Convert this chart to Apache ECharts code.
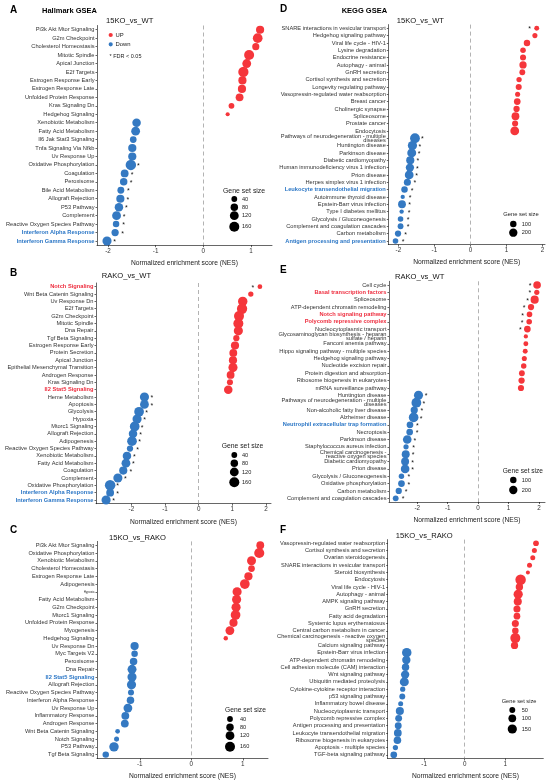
<!DOCTYPE html>
<html><head><meta charset="utf-8">
<script src="https://cdn.jsdelivr.net/npm/echarts@6/dist/echarts.min.js"></script>
<style>html,body{margin:0;padding:0;background:#fff}#c{width:550px;height:781px}</style>
</head><body><div id="c"></div>
<script>
// ---------------- DATA ----------------
const A_terms = ['Pi3k Akt Mtor Signaling','G2m Checkpoint','Cholesterol Homeostasis','Mitotic Spindle','Apical Junction','E2f Targets','Estrogen Response Early','Estrogen Response Late','Unfolded Protein Response','Kras Signaling Dn','Hedgehog Signaling','Xenobiotic Metabolism','Fatty Acid Metabolism','Il6 Jak Stat3 Signaling','Tnfa Signaling Via Nfkb','Uv Response Up','Oxidative Phosphorylation','Coagulation','Peroxisome','Bile Acid Metabolism','Allograft Rejection','P53 Pathway','Complement','Reactive Oxygen Species Pathway','Interferon Alpha Response','Interferon Gamma Response'];
const A_nes = [1.19,1.14,1.10,0.96,0.91,0.84,0.82,0.81,0.76,0.59,0.51,-1.40,-1.42,-1.47,-1.49,-1.49,-1.52,-1.65,-1.67,-1.73,-1.74,-1.77,-1.82,-1.83,-1.85,-2.02];
const A_size = [100,150,70,160,120,170,100,100,90,40,10,110,120,60,100,100,175,90,80,65,100,110,120,55,75,130];
const A_sig = [0,0,0,0,0,0,0,0,0,0,0,0,0,0,0,0,1,1,1,1,1,1,1,1,1,1];
const A_highlight = ['Interferon Alpha Response','Interferon Gamma Response'];

const B_terms = ['Notch Signaling','Wnt Beta Catenin Signaling','Uv Response Dn','E2f Targets','G2m Checkpoint','Mitotic Spindle','Dna Repair','Tgf Beta Signaling','Estrogen Response Early','Protein Secretion','Apical Junction','Epithelial Mesenchymal Transition','Androgen Response','Kras Signaling Dn','Il2 Stat5 Signaling','Heme Metabolism','Apoptosis','Glycolysis','Hypoxia','Mtorc1 Signaling','Allograft Rejection','Adipogenesis','Reactive Oxygen Species Pathway','Xenobiotic Metabolism','Fatty Acid Metabolism','Coagulation','Complement','Oxidative Phosphorylation','Interferon Alpha Response','Interferon Gamma Response'];
const B_nes = [1.82,1.55,1.31,1.29,1.20,1.18,1.18,1.12,1.08,1.03,1.02,1.02,0.95,0.93,0.88,-1.61,-1.61,-1.77,-1.83,-1.90,-1.95,-1.98,-2.04,-2.13,-2.16,-2.24,-2.40,-2.63,-2.63,-2.75];
const B_size = [20,30,140,170,160,160,130,50,100,90,100,130,90,45,110,130,120,150,130,150,110,150,50,110,120,100,130,180,90,130];
const B_sig = [1,0,0,0,0,0,0,0,0,0,0,0,0,0,0,1,1,1,1,1,1,1,1,1,1,1,1,1,1,1];
const B_highlight = ['Notch Signaling','Il2 Stat5 Signaling','Interferon Alpha Response','Interferon Gamma Response'];

const C_terms = ['Pi3k Akt Mtor Signaling','Oxidative Phosphorylation','Xenobiotic Metabolism','Cholesterol Homeostasis','Estrogen Response Late','Adipogenesis','Hypoxia','Fatty Acid Metabolism','G2m Checkpoint','Mtorc1 Signaling','Unfolded Protein Response','Myogenesis','Hedgehog Signaling','Uv Response Dn','Myc Targets V2','Peroxisome','Dna Repair','Il2 Stat5 Signaling','Allograft Rejection','Reactive Oxygen Species Pathway','Interferon Alpha Response','Uv Response Up','Inflammatory Response','Androgen Response','Wnt Beta Catenin Signaling','Notch Signaling','P53 Pathway','Tgf Beta Signaling'];
const C_nes = [1.34,1.32,1.17,1.17,1.11,1.04,0.89,0.88,0.87,0.86,0.82,0.75,0.67,-1.10,-1.10,-1.12,-1.15,-1.15,-1.16,-1.17,-1.18,-1.23,-1.28,-1.29,-1.43,-1.45,-1.50,-1.66];
const C_size = [90,165,125,60,100,150,130,130,130,150,100,120,15,100,55,80,125,130,130,45,80,120,90,90,20,25,140,55];
const C_sig = [0,0,0,0,0,0,0,0,0,0,0,0,0,0,0,0,0,0,0,0,0,0,0,0,0,0,0,0];
const C_highlight = ['Il2 Stat5 Signaling'];

const D_terms = ['SNARE interactions in vesicular transport','Hedgehog signaling pathway','Viral life cycle - HIV-1','Lysine degradation','Endocrine resistance','Autophagy - animal','GnRH secretion','Cortisol synthesis and secretion','Longevity regulating pathway','Vasopressin-regulated water reabsorption','Breast cancer','Cholinergic synapse','Spliceosome','Prostate cancer','Endocytosis','Pathways of neurodegeneration - multiple\ndiseases','Huntington disease','Parkinson disease','Diabetic cardiomyopathy','Human immunodeficiency virus 1 infection','Prion disease','Herpes simplex virus 1 infection','Leukocyte transendothelial migration','Autoimmune thyroid disease','Epstein-Barr virus infection','Type I diabetes mellitus','Glycolysis / Gluconeogenesis','Complement and coagulation cascades','Carbon metabolism','Antigen processing and presentation'];
const D_nes = [1.84,1.79,1.57,1.46,1.46,1.46,1.44,1.35,1.34,1.31,1.30,1.28,1.25,1.24,1.23,-1.54,-1.61,-1.63,-1.67,-1.68,-1.70,-1.75,-1.83,-1.88,-1.90,-1.91,-1.94,-1.94,-2.01,-2.08];
const D_size = [35,40,100,60,80,140,70,50,80,40,110,90,170,80,230,300,260,240,190,200,230,130,100,12,170,15,60,70,90,60];
const D_sig = [1,0,0,0,0,0,0,0,0,0,0,0,0,0,0,1,1,1,1,1,1,1,1,1,1,1,1,1,1,1];
const D_highlight = ['Leukocyte transendothelial migration','Antigen processing and presentation'];

const E_terms = ['Cell cycle','Basal transcription factors','Spliceosome','ATP-dependent chromatin remodeling','Notch signaling pathway','Polycomb repressive complex','Nucleocytoplasmic transport','Glycosaminoglycan biosynthesis - heparan\nsulfate / heparin','Fanconi anemia pathway','Hippo signaling pathway - multiple species','Hedgehog signaling pathway','Nucleotide excision repair','Protein digestion and absorption','Ribosome biogenesis in eukaryotes','mRNA surveillance pathway','Huntington disease','Pathways of neurodegeneration - multiple\ndiseases','Non-alcoholic fatty liver disease','Alzheimer disease','Neutrophil extracellular trap formation','Necroptosis','Parkinson disease','Staphylococcus aureus infection','Chemical carcinogenesis -\nreactive oxygen species','Diabetic cardiomyopathy','Prion disease','Glycolysis / Gluconeogenesis','Oxidative phosphorylation','Carbon metabolism','Complement and coagulation cascades'];
const E_nes = [1.94,1.93,1.86,1.74,1.69,1.68,1.62,1.57,1.57,1.55,1.52,1.50,1.44,1.43,1.41,-1.96,-2.03,-2.10,-2.12,-2.24,-2.25,-2.33,-2.37,-2.38,-2.40,-2.40,-2.52,-2.52,-2.61,-2.71];
const E_size = [160,45,190,90,60,60,110,12,35,35,40,55,70,90,85,250,300,140,290,110,110,220,45,180,180,220,55,110,90,70];
const E_sig = [1,1,1,1,1,1,1,0,0,0,0,0,0,0,0,1,1,1,1,1,1,1,1,1,1,1,1,1,1,1];
const E_highlight = ['Basal transcription factors','Notch signaling pathway','Polycomb repressive complex','Neutrophil extracellular trap formation'];

const F_terms = ['Vasopressin-regulated water reabsorption','Cortisol synthesis and secretion','Ovarian steroidogenesis','SNARE interactions in vesicular transport','Steroid biosynthesis','Endocytosis','Viral life cycle - HIV-1','Autophagy - animal','AMPK signaling pathway','GnRH secretion','Fatty acid degradation','Systemic lupus erythematosus','Central carbon metabolism in cancer','Chemical carcinogenesis - reactive oxygen\nspecies','Calcium signaling pathway','Epstein-Barr virus infection','ATP-dependent chromatin remodeling','Cell adhesion molecule (CAM) interaction','Wnt signaling pathway','Ubiquitin mediated proteolysis','Cytokine-cytokine receptor interaction','p53 signaling pathway','Inflammatory bowel disease','Nucleocytoplasmic transport','Polycomb repressive complex','Antigen processing and presentation','Leukocyte transendothelial migration','Ribosome biogenesis in eukaryotes','Apoptosis - multiple species','TGF-beta signaling pathway'];
const F_nes = [1.76,1.72,1.68,1.60,1.56,1.38,1.35,1.32,1.31,1.29,1.29,1.25,1.25,1.25,1.23,-1.43,-1.44,-1.46,-1.47,-1.49,-1.53,-1.54,-1.58,-1.60,-1.63,-1.64,-1.65,-1.66,-1.71,-1.75];
const F_size = [45,30,30,30,12,200,90,150,110,80,70,80,65,180,85,160,120,90,120,140,35,50,30,110,75,75,100,95,35,70];
const F_sig = [0,0,0,0,0,0,0,0,0,0,0,0,0,0,0,0,0,0,0,0,0,0,0,0,0,0,0,0,0,0];
const F_highlight = [];

const A_ticks = [-2,-1,0,1], B_ticks = [-2,-1,0,1,2], C_ticks = [-1,0,1];
const D_ticks = [-2,-1,0,1,2], E_ticks = [-2,-1,0,1,2], F_ticks = [-1,0,1];
const A_legendSizes = [40,80,120,160], B_legendSizes = [40,80,120,160], C_legendSizes = [40,80,120,160];
const D_legendSizes = [100,200], E_legendSizes = [100,200], F_legendSizes = [50,100,150];

// ---------------- STYLE / LAYOUT ----------------
const FONT = '"Liberation Sans", Arial, Helvetica, sans-serif';
const RED = '#F5363B', BLUE = '#3479C2', HL_RED = '#EE2E3F', HL_BLUE = '#2C77C6';
const TXT = '#333';

const panels = [
 {letter:'A', terms:A_terms, nes:A_nes, size:A_size, sig:A_sig, hl:A_highlight, ticks:A_ticks, lsz:A_legendSizes,
  grid:[97,25.5,175,219.7], xr:[-2.23,1.44], ss:[11.5,0.553], lp:{x:10,y:10}, sub:{t:'15KO_vs_WT',x:106,y:20.7},
  leg:{tx:223,ty:190.7,tf:6.9,cx:234.3,cys:[199,207.3,215.7,226.7],lx:242}},
 {letter:'B', terms:B_terms, nes:B_nes, size:B_size, sig:B_sig, hl:B_highlight, ticks:B_ticks, lsz:B_legendSizes,
  grid:[96,283.0,175,220.7], xr:[-3.05,2.15], ss:[11.5,0.553], lp:{x:10,y:273}, sub:{t:'RAKO_vs_WT',x:101.7,y:276},
  leg:{tx:221.7,ty:446,tf:6.8,cx:234.3,cys:[455,463.3,472,482.3],lx:242}},
 {letter:'C', terms:C_terms, nes:C_nes, size:C_size, sig:C_sig, hl:C_highlight, ticks:C_ticks, lsz:C_legendSizes,
  grid:[97,541.4,171,220.9], xr:[-1.83,1.49], ss:[11.5,0.553], lp:{x:10,y:530}, sub:{t:'15KO_vs_RAKO',x:109,y:537.7},
  leg:{tx:225,ty:710,tf:6.7,cx:230,cys:[719,727.3,735.7,746.7],lx:240}, tiny:['Hypoxia']},
 {letter:'D', terms:D_terms, nes:D_nes, size:D_size, sig:D_sig, hl:D_highlight, ticks:D_ticks, lsz:D_legendSizes,
  grid:[388.3,24.6,156.7,220], xr:[-2.28,2.07], ss:[15,0.27], lp:{x:280,y:9.5}, sub:{t:'15KO_vs_WT',x:396.7,y:20.7},
  leg:{tx:503.3,ty:214.3,tf:5.8,cx:513.3,cys:[224,232.7],lx:521.7}},
 {letter:'E', terms:E_terms, nes:E_nes, size:E_size, sig:E_sig, hl:E_highlight, ticks:E_ticks, lsz:E_legendSizes,
  grid:[389,281.3,156,220.7], xr:[-2.93,2.2], ss:[15,0.27], lp:{x:280,y:270}, sub:{t:'RAKO_vs_WT',x:395,y:277.3},
  leg:{tx:502.7,ty:471,tf:6.6,cx:513.3,cys:[480,490],lx:521.7}},
 {letter:'F', terms:F_terms, nes:F_nes, size:F_size, sig:F_sig, hl:F_highlight, ticks:F_ticks, lsz:F_legendSizes,
  grid:[387.7,539.6,155.6,220.8], xr:[-1.90,1.94], ss:[10,0.5], lp:{x:280,y:530}, sub:{t:'15KO_vs_RAKO',x:395.7,y:535.7},
  leg:{tx:501.7,ty:701,tf:5.7,cx:512.3,cys:[710,718.3,729],lx:521.7}}
];

const option = {animation:false, backgroundColor:'#fff', grid:[], xAxis:[], yAxis:[], series:[], graphic:[]};
const G = option.graphic;
function txt(t,x,y,fs,opt){ opt=opt||{}; G.push({type:'text', x:x, y:y, silent:true, style:{text:t, fontSize:fs, fontFamily:FONT,
  fontWeight:opt.bold?'bold':'normal', fill:opt.color||'#111', textAlign:opt.align||'left', textVerticalAlign:'middle'}}); }

panels.forEach((p,i)=>{
  const diam = s => Math.sqrt(p.ss[0] + p.ss[1]*s);
  option.grid.push({left:p.grid[0], top:p.grid[1], width:p.grid[2], height:p.grid[3], containLabel:false});
  option.xAxis.push({type:'value', gridIndex:i, min:p.xr[0], max:p.xr[1], splitLine:{show:false},
    axisLine:{show:true, onZero:false, lineStyle:{color:'#000', width:0.6}},
    axisTick:{show:true, length:2, lineStyle:{color:'#000', width:0.6}, customValues:p.ticks},
    axisLabel:{fontSize:6.3, color:TXT, margin:2.8, fontFamily:FONT, customValues:p.ticks, formatter:v=>String(v)},
    name:'Normalized enrichment score (NES)', nameLocation:'middle', nameGap:14.5,
    nameTextStyle:{fontSize:6.7, color:'#222', fontFamily:FONT}});
  option.yAxis.push({type:'category', gridIndex:i, inverse:true,
    data:p.terms.map((t,j)=>{ const it={value:t};
      if(p.hl.includes(t)) it.textStyle={color:p.nes[j]>0?HL_RED:HL_BLUE, fontWeight:'bold'};
      if(p.tiny && p.tiny.includes(t)) it.textStyle={fontSize:3};
      return it; }),
    axisLine:{show:true, onZero:false, lineStyle:{color:'#000', width:0.6}},
    axisTick:{show:true, alignWithLabel:true, length:1.5, lineStyle:{color:'#000', width:0.6}},
    axisLabel:{fontSize:5.7, color:TXT, margin:2.5, interval:0, lineHeight:4, fontFamily:FONT},
    splitLine:{show:false}});
  option.series.push({type:'scatter', xAxisIndex:i, yAxisIndex:i,
    data:p.nes.map((v,j)=>({value:[v,j,p.size[j],p.sig[j]], itemStyle:{color:v>0?RED:BLUE, opacity:1},
      label:{offset:v>0?[-7,1.2]:[7.5,1.2]}})),
    symbolSize:val=>diam(val[2]),
    label:{show:true, position:'inside', formatter:q=>q.value[3]?'*':'', fontSize:7, color:'#111', fontFamily:FONT},
    markLine:{silent:true, symbol:['none','none'], label:{show:false}, animation:false,
      lineStyle:{color:'#999999', type:[4,3], width:0.75}, data:[{xAxis:0}]}
  });
  txt(p.letter, p.lp.x, p.lp.y, 10, {bold:true, color:'#000'});
  txt(p.sub.t, p.sub.x, p.sub.y, 7.6, {color:'#111'});
  txt('Gene set size', p.leg.tx, p.leg.ty, p.leg.tf, {color:'#222'});
  p.lsz.forEach((s,k)=>{
    G.push({type:'circle', silent:true, shape:{cx:p.leg.cx, cy:p.leg.cys[k], r:diam(s)/2}, style:{fill:'#000'}});
    txt(String(s), p.leg.lx, p.leg.cys[k], 5.6, {color:'#222'});
  });
});
txt('Hallmark GSEA', 42, 10.7, 7.5, {bold:true, color:'#000'});
txt('KEGG GSEA', 341.7, 10.7, 7.5, {bold:true, color:'#000'});
G.push({type:'circle', silent:true, shape:{cx:110.7, cy:35, r:2.1}, style:{fill:RED}});
txt('UP', 115.5, 35, 5.9, {color:'#222'});
G.push({type:'circle', silent:true, shape:{cx:110.7, cy:44.3, r:2.1}, style:{fill:BLUE}});
txt('Down', 115.5, 44.3, 5.9, {color:'#222'});
txt('* FDR < 0.05', 109.5, 56.7, 5.5, {color:'#222'});

const chart = echarts.init(document.getElementById('c'), null, {renderer:'canvas'});
chart.setOption(option);
</script></body></html>
